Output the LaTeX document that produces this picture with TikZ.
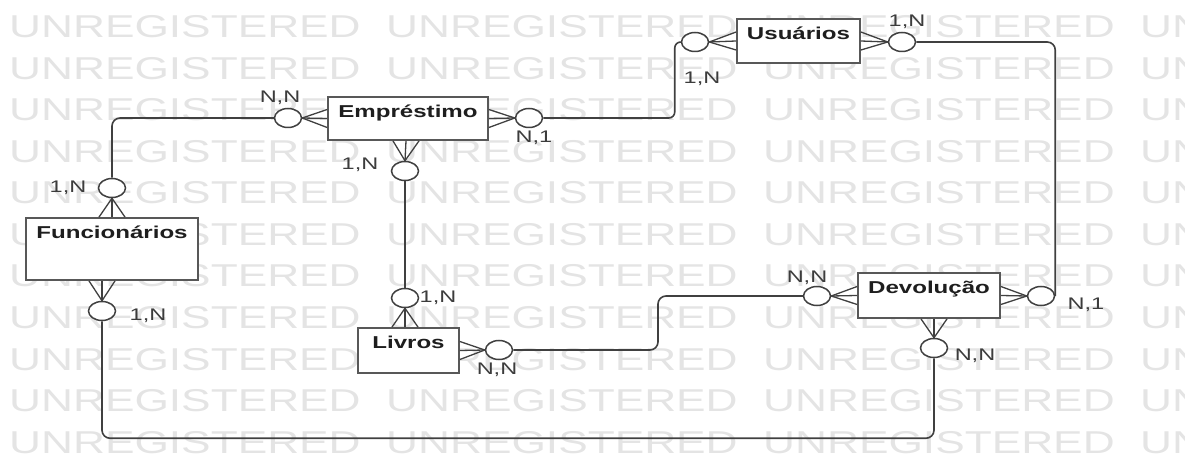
\documentclass[tikz,border=0pt]{standalone}
\usepackage{fontspec}
\setmainfont{Liberation Sans}[FakeStretch=1.4]
\usetikzlibrary{shapes.geometric,calc}
\definecolor{erLine}{RGB}{64,64,64}
\definecolor{erBorder}{RGB}{88,88,88}
\definecolor{erText}{RGB}{30,30,30}
\definecolor{erLabel}{RGB}{60,60,60}
\definecolor{erMark}{RGB}{228,228,228}

\begin{document}
\begin{tikzpicture}[
  x=1pt, y=-1pt,
  entity/.style={
    draw=erBorder,
    line width=1.8pt,
    fill=white,
    inner sep=0pt,
    text height=20.5pt,
    text=erText,
    font=\fontsize{17.2}{19}\selectfont\bfseries
  },
  zero/.style={ellipse,draw=erLine,line width=1.5pt,fill=white,
    minimum width=27pt,minimum height=19pt,inner sep=0pt},
  rel/.style={draw=erLine,line width=1.6pt,rounded corners=8pt},
  foot/.style={draw=erLine,line width=1.3pt},
  card/.style={font=\fontsize{16.8}{18}\selectfont,text=erLabel,
    anchor=base,inner sep=0pt},
  wmark/.style={font=\fontsize{31.6}{33}\selectfont,text=erMark,
    anchor=base west,inner sep=0pt}
]
  \useasboundingbox (0,0) rectangle (1185,454);
  % watermark
  \begin{scope}
    \clip (0,0) rectangle (1185,454);
    \foreach \r in {0,...,10}
      \foreach \c in {0,...,3}
        \node[wmark] at ({9+377*\c},{38+41.5*\r}) {UNREGISTERED};
  \end{scope}

  % entities
  \node[entity,minimum width=160pt,text depth=22.5pt] (emp) at (408,118.5) {Empréstimo};
  \node[entity,minimum width=123pt,text depth=23.5pt] (usu) at (798.5,41) {Usuários};
  \node[entity,minimum width=172pt,text depth=41.5pt] (fun) at (112,249) {Funcionários};
  \node[entity,minimum width=101pt,text depth=24.5pt] (liv) at (408.5,350.5) {Livros};
  \node[entity,minimum width=142pt,text depth=24.5pt] (dev) at (929,295.5) {Devolução};

  % zero-or-many ends
  \node[zero] (eFE) at (112,188) {};
  \node[zero] (eEF) at (288,118) {};
  \node[zero] (eEU) at (529,118) {};
  \node[zero] (eUE) at (695,42) {};
  \node[zero] (eUD) at (902,42) {};
  \node[zero] (eDU) at (1041,296) {};
  \node[zero] (eDL) at (817,296) {};
  \node[zero] (eLD) at (499,350) {};
  \node[zero] (eEL) at (405,171) {};
  \node[zero] (eLE) at (405,298) {};
  \node[zero] (eFD) at (102,311) {};
  \node[zero] (eDF) at (934,348) {};

  % relationships
  \draw[rel] (eFE.north) |- (eEF.west);
  \draw[rel,rounded corners=6pt] (eEU.east) -| ([xshift=-6pt]eUE.west) -- (eUE.west);
  \draw[rel] (eUD.east) -| (eDU.east);
  \draw[rel] (eDL.west) -| ($(eDL.west)!0.5!(eLD.east)$) |- (eLD.east);
  \draw[rel] (eEL.south) -- (eLE.north);
  \draw[rel] (eFD.south) -- ++(0,117) -| (eDF.south);

  % crow's feet
  \foreach \d in {-9,0,9} {
    \draw[foot] (eEF.east) -- ([yshift=\d pt]emp.west);
    \draw[foot] (eEU.west) -- ([yshift=\d pt]emp.east);
    \draw[foot] (eUE.east) -- ([yshift=\d pt]usu.west);
    \draw[foot] (eUD.west) -- ([yshift=\d pt]usu.east);
    \draw[foot] (eDU.west) -- ([yshift=\d pt]dev.east);
    \draw[foot] (eDL.east) -- ([yshift=\d pt]dev.west);
    \draw[foot] (eLD.west) -- ([yshift=\d pt]liv.east);
  }
  \foreach \d in {-13,0,13} {
    \draw[foot] (eFE.south) -- ([xshift=\d pt]fun.north);
    \draw[foot] (eFD.north) -- ([xshift={\d pt-10pt}]fun.south);
    \draw[foot] (eEL.north) -- ([xshift={\d pt-2pt}]emp.south);
    \draw[foot] (eLE.south) -- ([xshift={\d pt-3.5pt}]liv.north);
    \draw[foot] (eDF.north) -- ([xshift={\d pt+5pt}]dev.south);
  }

  % cardinalities
  \node[card] (cFE) at (68,193) {1,N};
  \node[card] (cEF) at (280,103) {N,N};
  \node[card] (cEU) at (534,143) {N,1};
  \node[card] (cUE) at (702,84) {1,N};
  \node[card] (cUD) at (907,27) {1,N};
  \node[card] (cDU) at (1086,309) {N,1};
  \node[card] (cDL) at (807,283) {N,N};
  \node[card] (cLD) at (497,374) {N,N};
  \node[card] (cEL) at (360,170) {1,N};
  \node[card] (cLE) at (438,302) {1,N};
  \node[card] (cFD) at (148,320) {1,N};
  \node[card] (cDF) at (975,360) {N,N};
\end{tikzpicture}
\end{document}
